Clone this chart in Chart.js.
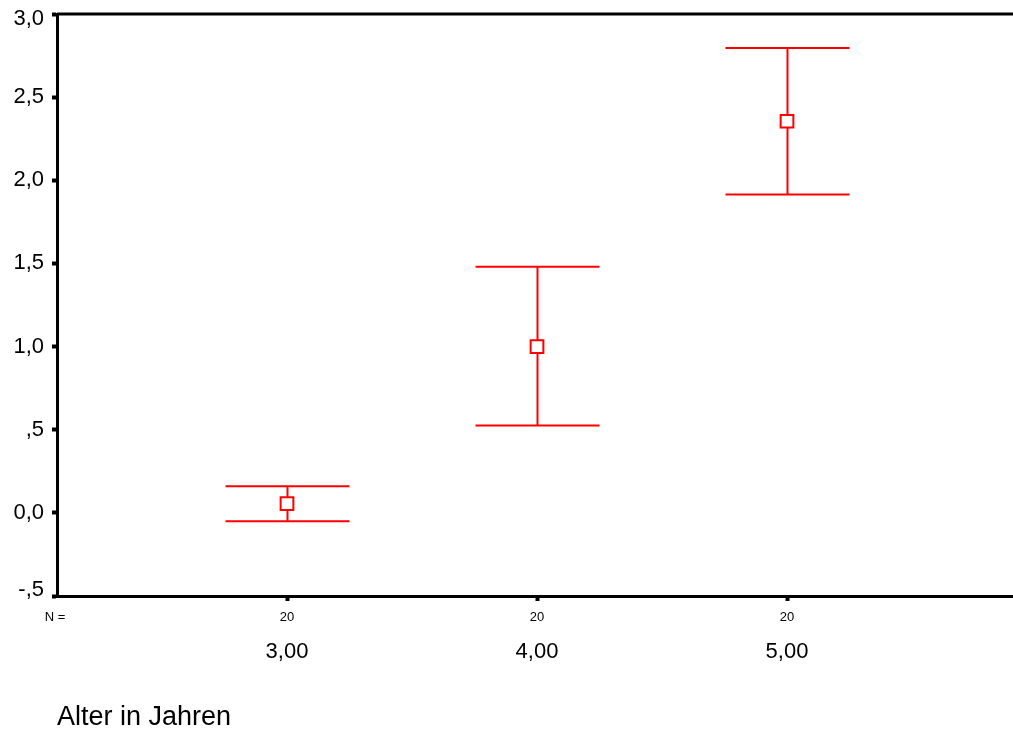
<!DOCTYPE html>
<html lang="de">
<head>
    <meta charset="UTF-8">
    <title>Fehlerbalken nach Alter</title>
    <script src="https://cdn.jsdelivr.net/npm/chart.js"></script>
    <style>
        * {
            margin: 0;
            padding: 0;
        }

        body {
            background: #ffffff;
            overflow: hidden;
        }

        .chart-box {
            position: relative;
            width: 1013px;
            height: 731px;
        }
    </style>
</head>
<body>
    <div class="chart-box">
        <canvas id="errorChart"></canvas>
    </div>

    <script>
        // Gruppen (Alter in Jahren) und Kennwerte je Gruppe
        const ages = [3, 4, 5];
        const means = [0.055, 1.00, 2.355];
        const upper = [0.16, 1.48, 2.795];
        const lower = [-0.05, 0.525, 1.915];
        const nValues = [20, 20, 20];
        const yTicks = [-0.5, 0, 0.5, 1.0, 1.5, 2.0, 2.5, 3.0];

        const FONT = '"Liberation Sans", Arial, sans-serif';
        const RED = '#ff0000';

        // SPSS-style: comma decimal, no leading zero except for 0,0
        function fmtTick(v) {
            if (v === 0) return '0,0';
            let s = Math.abs(v).toFixed(1).replace('.', ',');
            if (s.startsWith('0')) s = s.slice(1);
            return (v < 0 ? '-' : '') + s;
        }

        function fmtAge(v) {
            return v.toFixed(2).replace('.', ',');
        }

        // whiskers with caps, drawn under the mean markers
        const errorBars = {
            id: 'errorBars',
            beforeDatasetsDraw(chart) {
                const { ctx, scales: { x, y } } = chart;
                const capHalf = 62;
                ctx.save();
                ctx.strokeStyle = RED;
                ctx.lineWidth = 2;
                ages.forEach((a, i) => {
                    const px = Math.round(x.getPixelForValue(a)) + 0.5;
                    const yTop = y.getPixelForValue(upper[i]);
                    const yBot = y.getPixelForValue(lower[i]);
                    ctx.beginPath();
                    ctx.moveTo(px, yTop);
                    ctx.lineTo(px, yBot);
                    ctx.moveTo(px - capHalf, yTop);
                    ctx.lineTo(px + capHalf, yTop);
                    ctx.moveTo(px - capHalf, yBot);
                    ctx.lineTo(px + capHalf, yBot);
                    ctx.stroke();
                });
                ctx.restore();
            }
        };

        // top frame line, y labels, N row, group labels and axis title
        const frameAndLabels = {
            id: 'frameAndLabels',
            afterDraw(chart) {
                const { ctx, chartArea, scales: { x, y } } = chart;
                ctx.save();
                ctx.strokeStyle = '#000000';
                ctx.lineWidth = 3;
                ctx.beginPath();
                ctx.moveTo(chartArea.left, chartArea.top);
                ctx.lineTo(chartArea.right, chartArea.top);
                ctx.stroke();

                ctx.fillStyle = '#000000';
                ctx.textBaseline = 'middle';

                // y labels, end ones pulled inside the frame
                ctx.textAlign = 'right';
                ctx.font = '22px ' + FONT;
                yTicks.forEach(v => {
                    let py = y.getPixelForValue(v);
                    py = Math.min(Math.max(py, chartArea.top + 5), chartArea.bottom - 6);
                    ctx.fillText(fmtTick(v), 44, py);
                });

                ctx.textAlign = 'center';
                ctx.font = '13px ' + FONT;
                ctx.fillText('N =', 55, 617);
                ages.forEach((a, i) => {
                    const px = x.getPixelForValue(a);
                    ctx.font = '13px ' + FONT;
                    ctx.fillText(String(nValues[i]), px, 617);
                    ctx.font = '22px ' + FONT;
                    ctx.fillText(fmtAge(a), px, 652);
                });

                ctx.textAlign = 'left';
                ctx.font = '27px ' + FONT;
                ctx.fillText('Alter in Jahren', 57, 718);
                ctx.restore();
            }
        };

        const ctx = document.getElementById('errorChart').getContext('2d');
        new Chart(ctx, {
            type: 'scatter',
            data: {
                datasets: [{
                    label: 'Mittelwert',
                    data: ages.map((a, i) => ({ x: a, y: means[i] })),
                    pointStyle: 'rect',
                    pointRadius: 9,
                    pointHoverRadius: 9,
                    pointBorderWidth: 2,
                    pointBorderColor: RED,
                    pointBackgroundColor: '#ffffff'
                }]
            },
            options: {
                responsive: true,
                maintainAspectRatio: false,
                animation: false,
                events: [],
                layout: {
                    autoPadding: false,
                    padding: { top: 14, right: 0, left: 0, bottom: 0 }
                },
                plugins: {
                    legend: { display: false },
                    tooltip: { enabled: false }
                },
                scales: {
                    x: {
                        type: 'linear',
                        min: 2.08,
                        max: 5.904,
                        afterBuildTicks(scale) {
                            scale.ticks = ages.map(v => ({ value: v }));
                        },
                        afterFit(scale) {
                            scale.height = 135;
                            scale.paddingLeft = 0;
                            scale.paddingRight = 0;
                        },
                        ticks: { display: false },
                        grid: {
                            drawOnChartArea: false,
                            drawTicks: true,
                            tickLength: 5,
                            tickWidth: 4,
                            tickColor: '#000000'
                        },
                        border: { display: true, color: '#000000', width: 3 }
                    },
                    y: {
                        type: 'linear',
                        min: -0.5,
                        max: 3.0,
                        afterBuildTicks(scale) {
                            scale.ticks = yTicks.map(v => ({ value: v }));
                        },
                        afterFit(scale) {
                            scale.width = 57;
                            scale.paddingTop = 0;
                            scale.paddingBottom = 0;
                        },
                        ticks: { display: false },
                        grid: {
                            drawOnChartArea: false,
                            drawTicks: true,
                            tickLength: 5,
                            tickWidth: 4,
                            tickColor: '#000000'
                        },
                        border: { display: true, color: '#000000', width: 3 }
                    }
                }
            },
            plugins: [errorBars, frameAndLabels]
        });
    </script>
</body>
</html>
